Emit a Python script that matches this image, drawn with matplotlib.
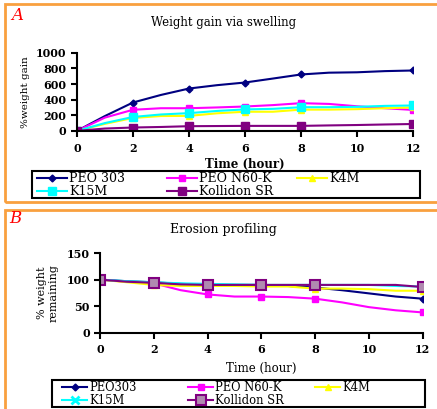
import matplotlib
matplotlib.use("Agg")
import matplotlib.pyplot as plt
from matplotlib.patches import Rectangle

# hourly time points
hours = [0, 1, 2, 3, 4, 5, 6, 7, 8, 9, 10, 11, 12]
mark_at = [0, 2, 4, 6, 8, 12]

# A: weight gain via swelling (%)
gain_peo303 = [0, 190, 363, 460, 542, 585, 619, 670, 722, 745, 750, 765, 773]
gain_n60k = [0, 170, 270, 290, 290, 300, 312, 330, 355, 345, 315, 290, 268]
gain_k4m = [0, 90, 165, 190, 192, 225, 245, 245, 272, 272, 278, 290, 300]
gain_k15m = [0, 100, 178, 210, 227, 255, 275, 282, 303, 303, 308, 320, 325]
gain_kollidon = [0, 30, 43, 50, 60, 62, 64, 64, 64, 70, 75, 82, 88]

# B: erosion, % weight remaining
rem_peo303 = [100, 97, 95, 92, 90, 90, 90, 88, 85, 80, 74, 68, 64]
rem_n60k = [100, 96, 93, 80, 72, 68, 68, 67, 64, 57, 48, 42, 38]
rem_k4m = [100, 95, 90, 88, 88, 88, 87, 87, 83, 83, 82, 79, 79]
rem_k15m = [100, 97, 95, 93, 92, 91, 90, 90, 90, 90, 90, 88, 87]
rem_kollidon = [100, 96, 94, 91, 90, 90, 90, 90, 90, 90, 90, 90, 86]

xticks = [0, 2, 4, 6, 8, 10, 12]
names_a = ["PEO 303", "PEO N60-K", "K4M", "K15M", "Kollidon SR"]
names_b = ["PEO303", "PEO N60-K", "K4M", "K15M", "Kollidon SR"]

navy = "#000080"
mag = "#ff00ff"
yel = "#ffff00"
cya = "#00ffff"
pur = "#800080"
orange = "#f9a03f"

plt.rcParams["font.family"] = ["DejaVu Serif"]

fig = plt.figure(figsize=(4.37, 4.09), dpi=100)
fig.patch.set_facecolor("white")

# orange frames round each panel
fig.patches.append(Rectangle((0.011, 0.506), 1.2, 0.484, transform=fig.transFigure,
                             fill=False, edgecolor=orange, lw=2, zorder=0))
fig.patches.append(Rectangle((0.011, -0.2), 1.2, 0.687, transform=fig.transFigure,
                             fill=False, edgecolor=orange, lw=2, zorder=0))

def style_axes(ax):
    ax.spines["top"].set_visible(False)
    ax.spines["right"].set_visible(False)
    ax.spines["left"].set_linewidth(1.5)
    ax.spines["bottom"].set_linewidth(1.5)
    ax.tick_params(axis="both", direction="out", width=1.5, length=4, labelsize=8)
    ax.tick_params(axis="x", pad=4.5)
    for lab in ax.get_xticklabels() + ax.get_yticklabels():
        lab.set_fontweight("bold")
    ax.set_xlim(0, 12)
    ax.set_xticks(xticks)

# legend laid out row by row like the original, one column at a time
def grid_legend(lines, names, xs, ytop, fs, hl, box):
    cols = [[0, 3], [1, 4], [2]]
    for x, idx in zip(xs, cols):
        fig.legend([lines[i] for i in idx], [names[i] for i in idx],
                   loc="upper left", bbox_to_anchor=(x, ytop), frameon=False,
                   fontsize=fs, borderpad=0, borderaxespad=0, labelspacing=0,
                   handlelength=hl, handletextpad=0.15)
    fig.patches.append(Rectangle(box[:2], box[2], box[3], transform=fig.transFigure,
                                 fill=False, edgecolor="black", lw=1.5))

# ---- panel A ----
axA = fig.add_axes([0.176, 0.680, 0.769, 0.191])
axA.plot(hours, gain_peo303, color=navy, lw=1.5, marker="D", ms=3.5, markevery=mark_at)
axA.plot(hours, gain_n60k, color=mag, lw=1.5, marker="s", ms=5, markevery=mark_at)
axA.plot(hours, gain_k4m, color=yel, lw=1.5, marker="^", ms=5, markevery=mark_at)
axA.plot(hours, gain_k15m, color=cya, lw=1.5, marker="s", ms=6, markevery=mark_at)
axA.plot(hours, gain_kollidon, color=pur, lw=1.5, marker="s", ms=6, markevery=mark_at)
axA.set_ylim(0, 1000)
axA.set_yticks([0, 200, 400, 600, 800, 1000])
style_axes(axA)
axA.set_xlabel("Time (hour)", fontsize=8.5, fontweight="bold", labelpad=3)
axA.set_ylabel("%weight gain", fontsize=7.5, labelpad=4)
fig.text(0.512, 0.946, "Weight gain via swelling", ha="center", va="center", fontsize=8.5)
fig.text(0.025, 0.962, "A", color="red", fontsize=12, style="italic", ha="left", va="center")
grid_legend(axA.get_lines(), names_a, [0.085, 0.382, 0.680], 0.579, 9, 2.4,
            (0.0732, 0.517, 0.888, 0.065))

# ---- panel B ----
axB = fig.add_axes([0.229, 0.187, 0.738, 0.194])
axB.plot(hours, rem_peo303, color=navy, lw=1.5, marker="D", ms=3.5, markevery=mark_at)
axB.plot(hours, rem_n60k, color=mag, lw=1.5, marker="s", ms=5, markevery=mark_at)
axB.plot(hours, rem_k4m, color=yel, lw=1.5, marker="^", ms=5, markevery=mark_at)
axB.plot(hours, rem_k15m, color=cya, lw=1.5, marker="x", ms=6, mew=2, markevery=mark_at)
axB.plot(hours, rem_kollidon, color=pur, lw=1.5, marker="s", ms=7, mfc="#b08ab0",
         mec=pur, mew=1.5, markevery=mark_at)
axB.set_ylim(0, 150)
axB.set_yticks([0, 50, 100, 150])
style_axes(axB)
axB.set_xlabel("Time (hour)", fontsize=8.5, labelpad=5)
axB.set_ylabel("% weight\nremaining", fontsize=8, labelpad=6)
fig.text(0.512, 0.440, "Erosion profiling", ha="center", va="center", fontsize=9)
fig.text(0.022, 0.466, "B", color="red", fontsize=12, style="italic", ha="left", va="center")
grid_legend(axB.get_lines(), names_b, [0.142, 0.430, 0.721], 0.069, 8.3, 2.2,
            (0.119, 0.0037, 0.8535, 0.0672))

fig.savefig("out.png", dpi=100, facecolor="white")
